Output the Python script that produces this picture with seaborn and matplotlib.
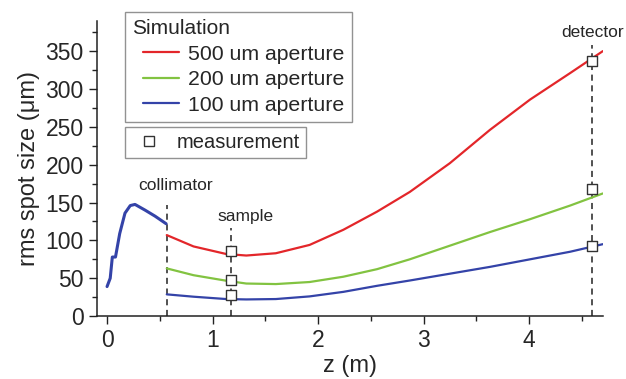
import numpy as np
import pandas as pd
import seaborn as sns
import matplotlib.pyplot as plt
from matplotlib.lines import Line2D
from matplotlib.legend_handler import HandlerLine2D

# beam before the collimator
z_beam = [0.0, 0.03, 0.05, 0.08, 0.12, 0.17, 0.22, 0.265, 0.36, 0.455, 0.56]
v_beam = [39, 50, 78, 78, 109, 136, 146, 147.5, 140, 132, 122]

# simulation after the collimator
z_sim = [0.566, 0.82, 1.13, 1.32, 1.6, 1.92, 2.24, 2.56, 2.87, 3.25, 3.63, 4.01, 4.39, 4.70]
v_500 = [107, 92, 82, 80, 83, 94, 114, 138, 164, 202, 246, 286, 321, 350]
v_200 = [63, 54, 46.7, 43, 42.3, 45, 52, 62, 75, 93, 111, 128, 146, 162]
v_100 = [28.7, 25.6, 22.5, 22, 22.5, 26, 32, 40, 47, 56, 65, 75, 85, 95]

# measurements
z_meas = [1.175, 1.175, 1.175, 4.60, 4.60, 4.60]
v_meas = [86, 47.5, 28, 337, 167.5, 92]

# positions of the components
comp_names = ['collimator', 'sample', 'detector']
comp_z = [0.565, 1.175, 4.60]
comp_top = [147, 116, 358]
label_pos = [(0.65, 172), (1.31, 132), (4.60, 374)]

sns.set_theme(style='ticks')
plt.rcParams['font.family'] = ['Liberation Sans', 'DejaVu Sans']

colors = {'500 um aperture': '#e3262a', '200 um aperture': '#82c341', '100 um aperture': '#3443a8'}

sim = pd.DataFrame({
    'z': z_sim * 3,
    'v': v_500 + v_200 + v_100,
    'series': ['500 um aperture'] * len(z_sim) + ['200 um aperture'] * len(z_sim) + ['100 um aperture'] * len(z_sim),
})
beam = pd.DataFrame({'z': z_beam, 'v': v_beam})
meas = pd.DataFrame({'z': z_meas, 'v': v_meas})


class ShiftedLine(HandlerLine2D):
    # legend line starts a bit to the right of the title
    def create_artists(self, legend, orig_handle, xdescent, ydescent, width, height, fontsize, trans):
        return super().create_artists(legend, orig_handle, xdescent - 8, ydescent, width - 8,
                                      height, fontsize, trans)


fig = plt.figure(figsize=(6.26, 3.79), dpi=100)
ax = fig.add_axes([0.155, 0.166, 0.808, 0.779])

sns.lineplot(data=beam, x='z', y='v', color=colors['100 um aperture'], lw=2.2, ax=ax, legend=False)
sns.lineplot(data=sim, x='z', y='v', hue='series', palette=colors, lw=1.6, ax=ax, legend=False, sort=False)

for z, top in zip(comp_z, comp_top):
    ax.plot([z, z], [0, top], color='#222222', ls=(0, (4, 3)), lw=1.1, zorder=1)

sns.scatterplot(data=meas, x='z', y='v', marker='s', s=55, facecolor='white',
                edgecolor='#333333', linewidth=1.0, ax=ax, zorder=5, legend=False)

for name, (x, y) in zip(comp_names, label_pos):
    ax.text(x, y, name, ha='center', va='center', fontsize=12.5)

ax.set_xlim(-0.095, 4.70)
ax.set_ylim(0, 390)
ax.set_xticks([0, 1, 2, 3, 4])
ax.set_xticks(np.arange(0.5, 4.7, 0.5), minor=True)
ax.set_yticks(np.arange(0, 351, 50))
ax.set_yticks(np.arange(25, 390, 50), minor=True)
ax.tick_params(axis='both', which='major', labelsize=16.5, length=6, width=1, direction='out', color='#222222')
ax.tick_params(axis='both', which='minor', length=3.5, width=1, direction='out', color='#222222')
ax.set_xlabel('z (m)', fontsize=17, labelpad=2)
ax.set_ylabel('rms spot size (\u03bcm)', fontsize=17, labelpad=4)
for s in ['left', 'bottom']:
    ax.spines[s].set_color('#222222')
    ax.spines[s].set_linewidth(1.1)
sns.despine(ax=ax)

handles = [Line2D([], [], color=c, lw=1.6) for c in colors.values()]
leg1 = ax.legend(handles, list(colors.keys()), title='Simulation', loc='upper left',
                 bbox_to_anchor=(0.055, 1.03), fontsize=15.3, title_fontsize=15, alignment='left',
                 frameon=True, fancybox=False, edgecolor='#777777', handlelength=2.2,
                 handletextpad=0.42, borderaxespad=0, labelspacing=0.3, borderpad=0.35,
                 handler_map={Line2D: ShiftedLine()})
leg1.get_frame().set_linewidth(1.0)
ax.add_artist(leg1)
mh = [Line2D([], [], ls='none', marker='s', markersize=7, markerfacecolor='white', markeredgecolor='#333333')]
leg2 = ax.legend(mh, ['measurement'], loc='upper left', bbox_to_anchor=(0.055, 0.641), fontsize=14.5,
                 frameon=True, fancybox=False, edgecolor='#777777', handlelength=1.8,
                 handletextpad=0.48, borderaxespad=0, borderpad=0.3)
leg2.get_frame().set_linewidth(1.0)

fig.savefig('out.png', dpi=100)
